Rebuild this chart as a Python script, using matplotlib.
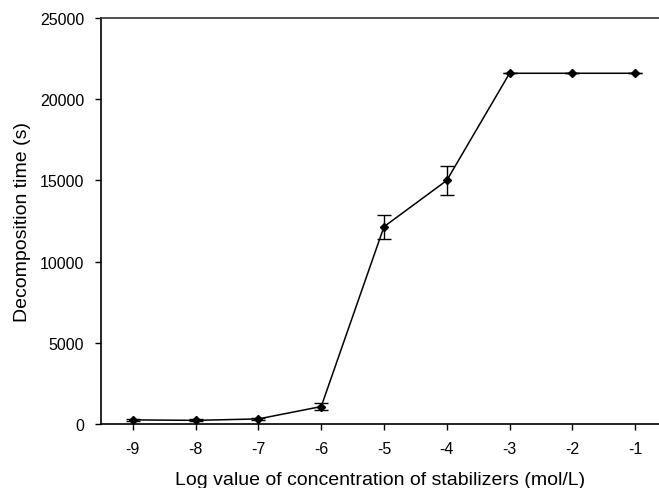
import matplotlib
matplotlib.use("Agg")
import matplotlib.pyplot as plt

plt.rcParams['font.family'] = ['Liberation Sans', 'DejaVu Sans']

log_conc = [-9, -8, -7, -6, -5, -4, -3, -2, -1]
decomp_time = [250, 220, 310, 1070, 12150, 15000, 21600, 21600, 21600]
err = [60, 60, 50, 220, 750, 880, 0, 0, 0]
xticks = [-9, -8, -7, -6, -5, -4, -3, -2, -1]
yticks = [0, 5000, 10000, 15000, 20000, 25000]

fig = plt.figure(figsize=(6.59, 4.89), dpi=100)
ax = fig.add_axes([0.153, 0.131, 0.847, 0.830])

ax.errorbar(log_conc, decomp_time, yerr=err, color='black', linewidth=1.1,
            marker='D', markersize=4, elinewidth=1.0, capsize=5, capthick=1.0)

ax.set_xlim(-9.51, -0.62)
ax.set_ylim(0, 25000)
ax.set_xticks(xticks)
ax.set_yticks(yticks)
ax.set_xticklabels([str(t) for t in xticks])
ax.set_yticklabels([str(t) for t in yticks])

ax.spines['right'].set_visible(False)
for s in ['left', 'bottom', 'top']:
    ax.spines[s].set_linewidth(1.2)
ax.spines['top'].set_color('#333333')
ax.tick_params(direction='out', length=4, width=1.0, labelsize=11.5, pad=8)
ax.tick_params(axis='x', top=False)

ax.set_xlabel('Log value of concentration of stabilizers (mol/L)', fontsize=14, labelpad=11)
ax.set_ylabel('Decomposition time (s)', fontsize=14, labelpad=6)

fig.savefig('out.png', dpi=100)
